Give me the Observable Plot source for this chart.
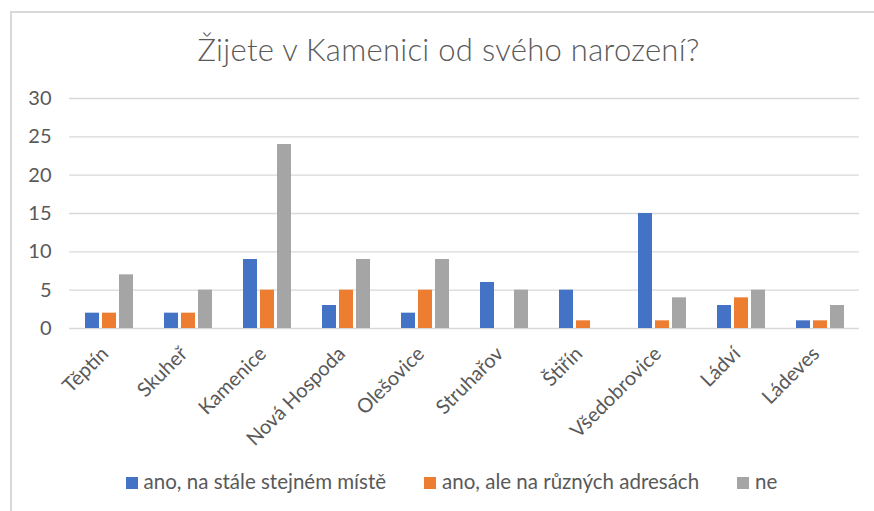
<!DOCTYPE html>
<html><head><meta charset="utf-8">
<script src="https://cdn.jsdelivr.net/npm/d3@7"></script>
<script src="https://cdn.jsdelivr.net/npm/@observablehq/plot@0.6"></script>
<style>
html,body{margin:0;padding:0;background:#fff;overflow:hidden;width:874px;height:511px}
#frame{position:absolute;left:10px;top:11px;width:900px;height:520px;border-top:2px solid #d9d9d9;border-left:2px solid #d9d9d9}
#title{position:absolute;left:0;width:897px;top:32px;text-align:center;font-family:Lato;font-weight:300;font-size:31px;letter-spacing:0.3px;color:#595959;line-height:34px;white-space:nowrap}
#chart{position:absolute;left:0;top:0}
#legend{position:absolute;left:0;width:903px;top:470px;display:flex;justify-content:center;gap:38px;font-family:Lato;font-size:20.5px;color:#595959;line-height:22px;white-space:nowrap}
.item{display:flex;align-items:center}
.sw{width:12px;height:12px;margin-right:6px;position:relative;top:2px}
</style></head><body>
<div id="frame"></div>
<div id="title"></div>
<div id="chart"></div>
<div id="legend"></div>
<script>
const titleText = "Žijete v Kamenici od svého narození?";
const categories = ["Těptín","Skuheř","Kamenice","Nová Hospoda","Olešovice","Struhařov","Štiřín","Všedobrovice","Ládví","Ládeves"];
const series = ["ano, na stále stejném místě","ano, ale na různých adresách","ne"];
const colors = ["#4472C4","#ED7D31","#A5A5A5"];
const valuesStejne = [2,2,9,3,2,6,5,15,3,1];
const valuesRuzne = [2,2,5,5,5,0,1,1,4,1];
const valuesNe = [7,5,24,9,9,5,0,4,5,3];
const yTicks = [0,5,10,15,20,25,30];

const seriesValues = [valuesStejne, valuesRuzne, valuesNe];
const data = [];
categories.forEach((c, i) => series.forEach((s, j) => data.push({category: c, series: s, value: seriesValues[j][i]})));

document.getElementById("title").textContent = titleText;

const plot = Plot.plot({
  width: 874, height: 440,
  marginLeft: 68, marginRight: 15, marginTop: 98, marginBottom: 112,
  style: {fontFamily: "Lato", fontSize: "20px", color: "#595959", background: "transparent", overflow: "visible"},
  fx: {domain: categories, padding: 0, label: null, axis: null},
  x: {domain: series, paddingInner: 0.2, paddingOuter: 0.857, axis: null},
  y: {domain: [0, 30], axis: null},
  color: {domain: series, range: colors},
  marks: [
    Plot.ruleY(yTicks, {stroke: "#d9d9d9", strokeWidth: 1.4}),
    Plot.barY(data.filter(d => d.value > 0), {fx: "category", x: "series", y: "value", fill: "series"}),
    Plot.axisY({ticks: yTicks, tickSize: 0, tickPadding: 18, fontSize: 20, label: null, fill: "#595959"}),
    Plot.axisFx({anchor: "bottom", tickRotate: -45, tickSize: 0, tickPadding: 10, dy: 12, dx: -4, fontSize: 20, label: null, fill: "#595959"})
  ]
});
document.getElementById("chart").appendChild(plot);

const legend = document.getElementById("legend");
series.forEach((s, j) => {
  const item = document.createElement("div");
  item.className = "item";
  const sw = document.createElement("span");
  sw.className = "sw";
  sw.style.background = colors[j];
  const t = document.createElement("span");
  t.textContent = s;
  item.appendChild(sw);
  item.appendChild(t);
  legend.appendChild(item);
});
</script>
</body></html>
